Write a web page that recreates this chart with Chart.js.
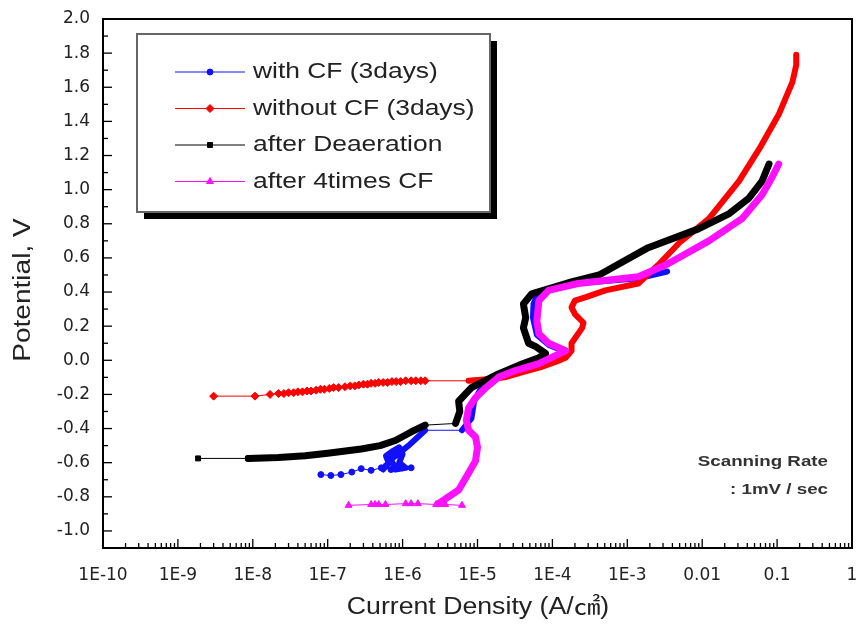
<!DOCTYPE html>
<html>
<head>
<meta charset="utf-8">
<script src="https://cdn.jsdelivr.net/npm/chart.js@4/dist/chart.umd.min.js"></script>
<style>
  body { margin: 0; background: #fff; }
  canvas { display: block; }
</style>
</head>
<body>
<canvas id="polar" width="858" height="627"></canvas>
<script>
// axes
const xTickValues = [1e-10, 1e-9, 1e-8, 1e-7, 1e-6, 1e-5, 1e-4, 1e-3, 0.01, 0.1, 1];
const xTickLabels = ['1E-10', '1E-9', '1E-8', '1E-7', '1E-6', '1E-5', '1E-4', '1E-3', '0.01', '0.1', '1'];
const yTickValues = [-1.0, -0.8, -0.6, -0.4, -0.2, 0.0, 0.2, 0.4, 0.6, 0.8, 1.0, 1.2, 1.4, 1.6, 1.8, 2.0];
const seriesNames = ['with CF (3days)', 'without CF (3days)', 'after Deaeration', 'after 4times CF'];

// [current density A/cm2, potential V] ; null = break in the trace
const blueMarkers = [[8.1e-8,-0.67],[1.1e-7,-0.675],[1.5e-7,-0.67],[2.1e-7,-0.655],[2.8e-7,-0.635],[3.8e-7,-0.645],
  [5.2e-7,-0.63],[6e-7,-0.62],[7e-7,-0.64],[8e-7,-0.62],[1e-6,-0.63],[1.3e-6,-0.63]];
const blueLinks = [[2e-6,-0.41],[6.2e-6,-0.41]];
const blueTrace = [[5.5e-7,-0.64],[6.5e-7,-0.60],[6e-7,-0.56],[7.5e-7,-0.53],[9e-7,-0.51],[1e-6,-0.55],[9e-7,-0.60],
  [1.1e-6,-0.63],[8e-7,-0.64],[7e-7,-0.58],[1.2e-6,-0.50],[1.6e-6,-0.45],[2e-6,-0.41], null,
  [6.2e-6,-0.41],[8.3e-6,-0.34],[9e-6,-0.24],[1.1e-5,-0.17],[1.9e-5,-0.10],[3.2e-5,-0.06],[6.6e-5,-0.02],
  [1.5e-4,0.05],[9e-5,0.09],[6.2e-5,0.15],[5.5e-5,0.25],[5.6e-5,0.33],[6.5e-5,0.40],[2e-4,0.45],
  [1.4e-3,0.48],[3.4e-3,0.52]];

const redMarkers = [[3e-9,-0.21],[1.07e-8,-0.21],[1.7e-8,-0.20],[2.2e-8,-0.195],[2.6e-8,-0.195],[3e-8,-0.19],
  [3.5e-8,-0.19],[4e-8,-0.185],[4.6e-8,-0.185],[5.3e-8,-0.18],[6e-8,-0.18],[7e-8,-0.175],[8e-8,-0.17],
  [9e-8,-0.17],[1.05e-7,-0.165],[1.2e-7,-0.16],[1.4e-7,-0.16],[1.7e-7,-0.155],[2e-7,-0.15],[2.3e-7,-0.15],
  [2.6e-7,-0.145],[3e-7,-0.14],[3.4e-7,-0.14],[3.8e-7,-0.135],[4.3e-7,-0.135],[4.8e-7,-0.13],[5.5e-7,-0.13],
  [6.3e-7,-0.13],[7.2e-7,-0.125],[8.2e-7,-0.125],[9.4e-7,-0.125],[1.1e-6,-0.12],[1.3e-6,-0.12],
  [1.5e-6,-0.12],[1.75e-6,-0.12],[2e-6,-0.12]];
const redLinks = [[2e-6,-0.12],[7.6e-6,-0.12]];
const redTrace = [[7.6e-6,-0.12],[1e-5,-0.115],[1.5e-5,-0.11],[2.3e-5,-0.10],[4e-5,-0.07],[7e-5,-0.04],
  [1.1e-4,-0.01],[1.5e-4,0.015],[1.8e-4,0.056],[1.8e-4,0.10],[2.5e-4,0.19],[2.6e-4,0.22],[2e-4,0.27],
  [1.8e-4,0.31],[2e-4,0.35],[2.8e-4,0.37],[5.1e-4,0.41],[1.4e-3,0.45],[2.6e-3,0.56],[5e-3,0.69],
  [0.0123,0.83],[0.031,1.05],[0.058,1.24],[0.105,1.44],[0.16,1.63],[0.18,1.73],[0.18,1.79]];

const blackMarkers = [[1.86e-9,-0.575],[8.7e-9,-0.575]];
const blackLinks = [[2e-6,-0.38],[5.1e-6,-0.37]];
const blackTrace = [[8.7e-9,-0.575],[2.2e-8,-0.57],[5e-8,-0.56],[1e-7,-0.545],[2.8e-7,-0.52],[5e-7,-0.50],
  [8e-7,-0.47],[1.3e-6,-0.42],[2e-6,-0.38], null,
  [5.1e-6,-0.37],[5.8e-6,-0.30],[5.6e-6,-0.24],[8.3e-6,-0.16],[1.9e-5,-0.08],[4e-5,-0.02],[6.6e-5,0.015],
  [8.1e-5,0.04],[6e-5,0.08],[4.8e-5,0.10],[4.1e-5,0.19],[4.4e-5,0.25],[4.1e-5,0.33],[5.3e-5,0.39],
  [1.8e-4,0.46],[4.2e-4,0.50],[1.9e-3,0.66],[8.9e-3,0.77],[0.023,0.86],[0.042,0.95],[0.063,1.05],[0.078,1.15]];

const pinkMarkers = [[1.9e-7,-0.85],[3.8e-7,-0.845],[4.3e-7,-0.845],[4.8e-7,-0.845],[5.9e-7,-0.845],
  [1.1e-6,-0.84],[1.3e-6,-0.84],[1.6e-6,-0.84],[2.8e-6,-0.845],[3.2e-6,-0.845],[3.7e-6,-0.845],[6.2e-6,-0.85]];
const pinkTrace = [[3e-6,-0.84],[5.6e-6,-0.76],[7.6e-6,-0.66],[9.4e-6,-0.59],[1e-5,-0.51],[9.4e-6,-0.45],
  [7.6e-6,-0.41],[7.1e-6,-0.35],[7.6e-6,-0.28],[9.4e-6,-0.22],[1.3e-5,-0.16],[1.9e-5,-0.10],[3.2e-5,-0.06],
  [6.6e-5,-0.02],[1.5e-4,0.056],[8.9e-5,0.10],[6.6e-5,0.155],[6.2e-5,0.23],[6.6e-5,0.35],[8.9e-5,0.41],
  [2.2e-4,0.45],[1.4e-3,0.49],[3.3e-3,0.56],[0.0123,0.70],[0.034,0.83],[0.063,0.97],[0.085,1.07],[0.105,1.15]];

const BLUE = '#1010ff', RED = '#ff0000', BLACK = '#000000', PINK = '#ff10ff';

const pts = arr => arr.map(p => p ? { x: p[0], y: p[1] } : { x: null, y: null });

function trace(data, color, width, order) {
  return { data: pts(data), showLine: true, borderColor: color, backgroundColor: color, borderWidth: width,
    pointRadius: 0, borderCapStyle: 'round', borderJoinStyle: 'round', order };
}
function marked(data, color, style, r, order) {
  return { data: pts(data), showLine: true, borderColor: color, backgroundColor: color, borderWidth: 1,
    pointStyle: style, pointRadius: r, pointBorderWidth: 1, order };
}

const legendRows = [
  { label: seriesNames[0], color: BLUE, style: 'circle', r: 3 },
  { label: seriesNames[1], color: RED, style: 'rectRot', r: 4 },
  { label: seriesNames[2], color: BLACK, style: 'rect', r: 3.5 },
  { label: seriesNames[3], color: PINK, style: 'triangle', r: 4 }
];

function stretchText(ctx, text, x, y, font, sx, align, rot) {
  ctx.save();
  ctx.translate(x, y);
  if (rot) ctx.rotate(rot);
  ctx.scale(sx, 1);
  ctx.font = font;
  ctx.textAlign = align;
  ctx.textBaseline = 'middle';
  ctx.fillText(text, 0, 0);
  ctx.restore();
}

const decorations = {
  id: 'decorations',
  afterDraw(chart) {
    const { ctx, chartArea: a, scales: { x, y } } = chart;
    ctx.save();
    ctx.strokeStyle = '#000';
    ctx.lineWidth = 2;
    ctx.strokeRect(a.left, a.top, a.right - a.left, a.bottom - a.top);

    // inward ticks
    ctx.lineWidth = 1.3;
    const tick = (x1, y1, x2, y2) => { ctx.beginPath(); ctx.moveTo(x1, y1); ctx.lineTo(x2, y2); ctx.stroke(); };
    yTickValues.forEach(v => { const p = y.getPixelForValue(v); tick(a.left, p, a.left + 9, p); });
    for (let k = -11; k <= 19; k += 2) {
      const p = y.getPixelForValue(k / 10);
      tick(a.left, p, a.left + 5, p);
    }
    xTickValues.forEach((d, i) => {
      const p = x.getPixelForValue(d);
      tick(p, a.bottom, p, a.bottom - 9);
      if (i < xTickValues.length - 1) {
        for (let m = 2; m <= 9; m++) {
          const q = x.getPixelForValue(d * m);
          tick(q, a.bottom, q, a.bottom - 5);
        }
      }
    });

    // axis titles
    ctx.fillStyle = '#222';
    stretchText(ctx, 'Potential, V', 24, 290, '23px "Liberation Sans", Arial, sans-serif', 1.22, 'center', -Math.PI / 2);
    stretchText(ctx, 'Current Density (A/\u33A0)', 478, 608, '23px "Liberation Sans", Arial, "Noto Sans CJK KR", sans-serif', 1.16, 'center');

    // note
    ctx.fillStyle = '#333';
    stretchText(ctx, 'Scanning Rate', 828, 462, 'bold 15px "Liberation Sans", Arial, sans-serif', 1.25, 'right');
    stretchText(ctx, ': 1mV / sec', 828, 490, 'bold 15px "Liberation Sans", Arial, sans-serif', 1.25, 'right');

    // legend box with shadow
    const bx = 137, by = 34, bw = 353, bh = 178;
    ctx.fillStyle = '#000';
    ctx.fillRect(bx + 7, by + 7, bw, bh);
    ctx.fillStyle = '#fff';
    ctx.fillRect(bx, by, bw, bh);
    ctx.strokeStyle = '#666';
    ctx.lineWidth = 2;
    ctx.strokeRect(bx, by, bw, bh);

    legendRows.forEach((row, i) => {
      const ry = 72 + i * 36.5;
      ctx.strokeStyle = row.color;
      ctx.fillStyle = row.color;
      ctx.lineWidth = 1;
      tick(175, ry, 245, ry);
      Chart.helpers.drawPoint(ctx, { pointStyle: row.style, radius: row.r, rotation: 0, borderWidth: 1 }, 210, ry);
      ctx.fillStyle = '#222';
      stretchText(ctx, row.label, 253, ry, '22px "Liberation Sans", Arial, sans-serif', 1.2, 'left');
    });
    ctx.restore();
  }
};

new Chart(document.getElementById('polar'), {
  type: 'scatter',
  data: {
    datasets: [
      trace(pinkTrace, PINK, 7, 0),
      marked(pinkMarkers, PINK, 'triangle', 4, 0),
      trace(blackTrace, BLACK, 7, 1),
      marked(blackMarkers, BLACK, 'rect', 3.5, 1),
      trace(blackLinks, BLACK, 1, 1),
      trace(redTrace, RED, 6, 2),
      marked(redMarkers, RED, 'rectRot', 4, 2),
      trace(redLinks, RED, 1, 2),
      trace(blueTrace, BLUE, 6, 3),
      marked(blueMarkers, BLUE, 'circle', 3, 3),
      trace(blueLinks, BLUE, 1, 3)
    ]
  },
  options: {
    responsive: false,
    animation: false,
    layout: { padding: { left: 0, top: 19, right: 6, bottom: 0 } },
    plugins: { legend: { display: false }, tooltip: { enabled: false } },
    scales: {
      x: {
        type: 'logarithmic',
        min: 1e-10,
        max: 1,
        afterBuildTicks: s => { s.ticks = xTickValues.map(v => ({ value: v })); },
        afterFit: s => { s.height = 79; s.paddingLeft = 0; s.paddingRight = 0; },
        grid: { display: false, drawTicks: false },
        border: { display: false },
        ticks: {
          autoSkip: false,
          maxRotation: 0,
          padding: 17,
          color: '#222',
          font: { family: '"DejaVu Sans"', size: 17 },
          callback: (v, i) => xTickLabels[i]
        }
      },
      y: {
        min: -1.1,
        max: 2.0,
        afterBuildTicks: s => { s.ticks = yTickValues.map(v => ({ value: v })); },
        afterFit: s => { s.width = 103; s.paddingTop = 0; s.paddingBottom = 0; },
        grid: { display: false, drawTicks: false },
        border: { display: false },
        ticks: {
          padding: 13,
          color: '#222',
          font: { family: '"DejaVu Sans"', size: 17 },
          callback: v => v.toFixed(1)
        }
      }
    }
  },
  plugins: [decorations]
});
</script>
</body>
</html>
